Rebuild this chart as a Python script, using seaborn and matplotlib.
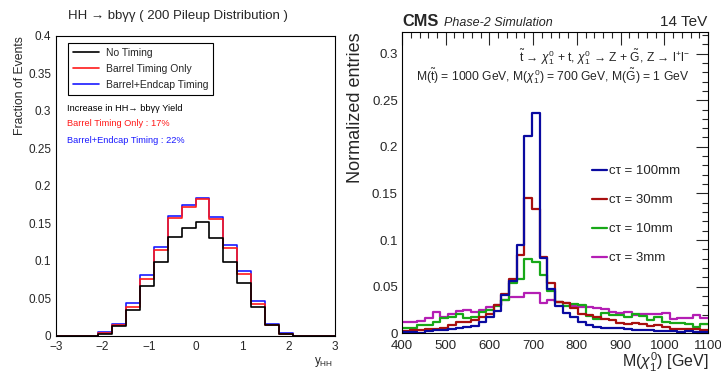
import numpy as np
import pandas as pd
import matplotlib
matplotlib.use("Agg")
import matplotlib.pyplot as plt
import seaborn as sns
from matplotlib.ticker import AutoMinorLocator, FuncFormatter, MultipleLocator

sns.set_style("white")
plt.rcParams['font.family'] = ['Liberation Sans', 'DejaVu Sans']
plt.rcParams['mathtext.fontset'] = 'custom'
plt.rcParams['mathtext.rm'] = 'Liberation Sans'
plt.rcParams['mathtext.it'] = 'Liberation Sans:italic'
plt.rcParams['mathtext.bf'] = 'Liberation Sans:bold'

# --- left panel: y_HH, 20 bins from -3 to 3
yhh_range = (-3, 3)
no_timing = [0, 0, 0.0005, 0.003, 0.013, 0.035, 0.066, 0.098, 0.132, 0.144,
             0.152, 0.131, 0.099, 0.071, 0.038, 0.014, 0.003, 0.0005, 0, 0]
barrel_only = [0, 0, 0.0005, 0.004, 0.014, 0.039, 0.076, 0.115, 0.157, 0.172,
               0.182, 0.156, 0.117, 0.082, 0.042, 0.014, 0.003, 0.0005, 0, 0]
barrel_endcap = [0, 0, 0.0005, 0.005, 0.016, 0.044, 0.081, 0.119, 0.160, 0.175,
                 0.184, 0.159, 0.121, 0.087, 0.047, 0.016, 0.0036, 0.0005, 0, 0]

# --- right panel: M(chi), 40 bins from 400 to 1100 GeV
m_range = (400, 1100)
ct100 = [0.001, 0.001, 0.0, 0.002, 0.003, 0.004, 0.005, 0.006, 0.007, 0.008,
         0.012, 0.017, 0.024, 0.041, 0.056, 0.095, 0.212, 0.236, 0.081, 0.047,
         0.029, 0.022, 0.018, 0.012, 0.009, 0.0065, 0.0055, 0.0055, 0.006, 0.0045,
         0.004, 0.0035, 0.0035, 0.0025, 0.002, 0.002, 0.001, 0.002, 0.001, 0.001]
ct30 = [0.002, 0.003, 0.004, 0.005, 0.005, 0.006, 0.009, 0.012, 0.012, 0.014,
        0.018, 0.021, 0.030, 0.042, 0.058, 0.084, 0.145, 0.133, 0.082, 0.054,
        0.034, 0.032, 0.027, 0.021, 0.020, 0.018, 0.015, 0.014, 0.011, 0.010,
        0.011, 0.010, 0.008, 0.009, 0.0065, 0.0045, 0.005, 0.0045, 0.005, 0.0035]
ct10 = [0.006, 0.006, 0.009, 0.009, 0.012, 0.016, 0.018, 0.021, 0.016, 0.017,
        0.023, 0.025, 0.029, 0.036, 0.054, 0.058, 0.080, 0.076, 0.0625, 0.045,
        0.034, 0.029, 0.031, 0.030, 0.019, 0.015, 0.022, 0.020, 0.020, 0.018,
        0.021, 0.019, 0.014, 0.018, 0.0125, 0.011, 0.011, 0.010, 0.007, 0.010]
ct3 = [0.012, 0.012, 0.013, 0.016, 0.023, 0.018, 0.021, 0.024, 0.025, 0.023,
       0.025, 0.028, 0.030, 0.036, 0.039, 0.039, 0.043, 0.043, 0.032, 0.036,
       0.034, 0.032, 0.029, 0.028, 0.028, 0.027, 0.026, 0.023, 0.022, 0.023,
       0.0196, 0.021, 0.021, 0.021, 0.022, 0.015, 0.016, 0.016, 0.0196, 0.016]


def step_hist(ax, rng, vals, col, lw):
    n = len(vals)
    edges = np.linspace(rng[0], rng[1], n + 1)
    centers = 0.5 * (edges[1:] + edges[:-1])
    df = pd.DataFrame({'x': centers, 'w': vals})
    sns.histplot(data=df, x='x', weights='w', bins=n, binrange=rng, element="step",
                 fill=False, color=col, linewidth=lw, ax=ax)


fig = plt.figure(figsize=(7.21, 3.76), dpi=100)
ax1 = fig.add_axes([0.0777, 0.1064, 0.387, 0.798])
ax2 = fig.add_axes([0.5576, 0.1136, 0.4244, 0.801])

step_hist(ax1, yhh_range, barrel_endcap, '#1a1aff', 1.2)
step_hist(ax1, yhh_range, barrel_only, '#ff1a1a', 1.2)
step_hist(ax1, yhh_range, no_timing, 'black', 1.2)

ax1.set_xlim(-3, 3)
ax1.set_ylim(0, 0.4)
ax1.xaxis.set_major_locator(MultipleLocator(1))
ax1.yaxis.set_major_locator(MultipleLocator(0.05))
ax1.xaxis.set_minor_locator(AutoMinorLocator(5))
ax1.yaxis.set_minor_locator(AutoMinorLocator(5))
fmt = FuncFormatter(lambda v, p: '{:g}'.format(round(v, 3)).replace('-', '\u2212'))
ax1.xaxis.set_major_formatter(fmt)
ax1.yaxis.set_major_formatter(fmt)
ax1.tick_params(which='both', direction='in', labelsize=8.5, top=False, right=False)
ax1.tick_params(which='major', length=8, width=0.7)
ax1.tick_params(which='minor', length=4, width=0.7)
for s in ax1.spines.values():
    s.set_linewidth(0.8)
    s.set_color('black')
ax1.set_ylabel('Fraction of Events', fontsize=8.8, loc='top')
ax1.yaxis.set_label_coords(-0.108, 1.0)
ax1.set_xlabel('y$_{\\mathrm{HH}}$', fontsize=8.5, loc='right')
ax1.xaxis.set_label_coords(0.995, -0.065)

leg_handles = [plt.Line2D([], [], color=c, lw=1.2) for c in ['black', '#ff1a1a', '#1a1aff']]
leg1 = ax1.legend(leg_handles, ['No Timing', 'Barrel Timing Only', 'Barrel+Endcap Timing'],
                  loc='upper left', bbox_to_anchor=(0.043, 0.977),
                  borderaxespad=0, fancybox=False, edgecolor='black', framealpha=1,
                  fontsize=7.5, handlelength=2.5, handletextpad=0.6,
                  labelspacing=0.55, borderpad=0.5)
leg1.get_frame().set_linewidth(0.8)

ax1.text(0.04, 0.757, 'Increase in HH\u2192 bb\u03b3\u03b3 Yield', transform=ax1.transAxes,
         fontsize=6.7, color='black', va='center')
ax1.text(0.04, 0.707, 'Barrel Timing Only : 17%', transform=ax1.transAxes,
         fontsize=6.7, color='#ff1a1a', va='center')
ax1.text(0.04, 0.653, 'Barrel+Endcap Timing : 22%', transform=ax1.transAxes,
         fontsize=6.7, color='#1a1aff', va='center')
fig.text(0.094, 0.958, 'HH \u2192 bb\u03b3\u03b3 ( 200 Pileup Distribution )', fontsize=9.5,
         va='center', ha='left')

# right panel
series = [(ct3, '#b41eb4', 'c\u03c4 = 3mm'),
          (ct10, '#18a818', 'c\u03c4 = 10mm'),
          (ct30, '#a80f0f', 'c\u03c4 = 30mm'),
          (ct100, '#0a0aa0', 'c\u03c4 = 100mm')]
for vals, col, lab in series:
    step_hist(ax2, m_range, vals, col, 1.6)

ax2.set_xlim(400, 1100)
ax2.set_ylim(0, 0.323)
ax2.xaxis.set_major_locator(MultipleLocator(100))
ax2.yaxis.set_major_locator(MultipleLocator(0.05))
ax2.xaxis.set_minor_locator(AutoMinorLocator(5))
ax2.yaxis.set_minor_locator(AutoMinorLocator(5))
ax2.xaxis.set_major_formatter(fmt)
ax2.yaxis.set_major_formatter(fmt)
ax2.tick_params(which='both', direction='in', labelsize=9.5, top=True, right=True)
ax2.tick_params(which='major', length=9, width=0.8)
ax2.tick_params(which='minor', length=4.5, width=0.8)
ax2.tick_params(axis='y', pad=3)
ax2.tick_params(axis='x', pad=5)
for s in ax2.spines.values():
    s.set_linewidth(0.8)
    s.set_color('black')
ax2.set_ylabel('Normalized entries', fontsize=13, loc='top')
ax2.yaxis.set_label_coords(-0.125, 1.0)
ax2.set_xlabel('M($\\chi_{1}^{0}$) [GeV]', fontsize=11.5, loc='right')
ax2.xaxis.set_label_coords(1.0, -0.058)

leg_h2 = [plt.Line2D([], [], color=c, lw=1.6) for _, c, _ in series[::-1]]
ax2.legend(leg_h2, [lab for _, _, lab in series[::-1]], loc='upper left',
           bbox_to_anchor=(0.621, 0.558), borderaxespad=0, frameon=False,
           fontsize=9.5, handlelength=1.15, handletextpad=0.15, labelspacing=1.27,
           borderpad=0)

ax2.text(0.94, 0.917,
         '$\\tilde{\\mathrm{t}}$ \u2192 $\\chi_{1}^{0}$ + t, $\\chi_{1}^{0}$ \u2192 Z + $\\tilde{\\mathrm{G}}$, Z \u2192 l$^{+}$l$^{-}$',
         transform=ax2.transAxes, fontsize=8.7, ha='right', va='center')
ax2.text(0.94, 0.853,
         'M($\\tilde{\\mathrm{t}}$) = 1000 GeV, M($\\chi_{1}^{0}$) = 700 GeV, M($\\tilde{\\mathrm{G}}$) = 1 GeV',
         transform=ax2.transAxes, fontsize=8.7, ha='right', va='center')
fig.text(0.558, 0.93, 'CMS', fontsize=11.8, fontweight='bold', ha='left', va='baseline')
fig.text(0.616, 0.93, 'Phase-2 Simulation', fontsize=9, style='italic', ha='left', va='baseline')
fig.text(0.981, 0.93, '14 TeV', fontsize=11, ha='right', va='baseline')

fig.savefig('out.png', dpi=100)
